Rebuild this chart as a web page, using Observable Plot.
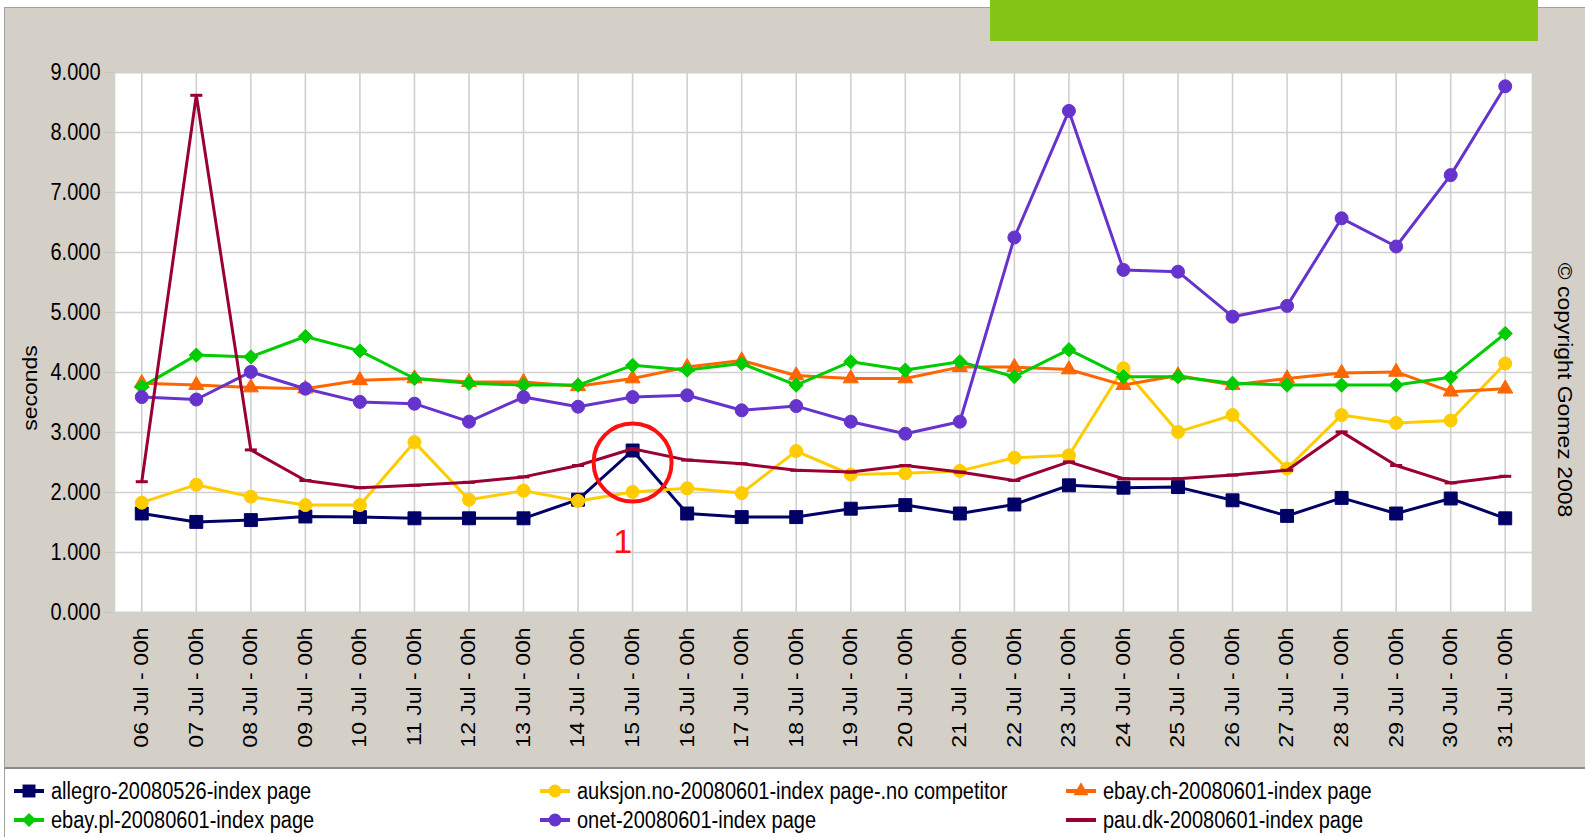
<!DOCTYPE html>
<html><head><meta charset="utf-8">
<script src="https://cdn.jsdelivr.net/npm/d3@7"></script>
<script src="https://cdn.jsdelivr.net/npm/@observablehq/plot@0.6"></script>
<style>
html,body{margin:0;padding:0;background:#fff;}
#wrap{position:relative;width:1585px;height:837px;overflow:hidden;background:#fff;font-family:"Liberation Sans",Arial,sans-serif;color:#000;}
#panel{position:absolute;left:4px;top:7px;width:1581px;height:762px;background:#d4d0c8;border-left:1px solid #a0a0a0;border-top:1px solid #a0a0a0;border-bottom:2px solid #8c8c8c;box-sizing:border-box;}
#legendBorder{position:absolute;left:4px;top:769px;width:1px;height:68px;background:#a0a0a0;}
#green{position:absolute;left:990px;top:0;width:548px;height:41px;background:#84c414;}
#chart{position:absolute;left:0;top:0;}
.rot{position:absolute;white-space:nowrap;font-size:23px;line-height:1;}
.leg{position:absolute;display:flex;align-items:center;height:26px;font-size:20px;white-space:nowrap;}
.leg span{display:inline-block;transform:scaleY(1.15);transform-origin:left center;}
.leg svg{margin-right:6px;}
</style></head>
<body>
<div id="wrap">
  <div id="panel"></div>
  <div id="legendBorder"></div>
  <div id="green"></div>
  <div id="chart"></div>
  <div class="rot" id="ylab" style="left:30px;top:388px;transform:translate(-50%,-50%) rotate(-90deg) scaleY(0.87);">seconds</div>
  <div class="rot" id="copy" style="left:1565px;top:390px;transform:translate(-50%,-50%) rotate(90deg) scaleY(0.87);">© copyright Gomez 2008</div>
  <div id="legend"></div>
</div>
<script>
// ---- data ----
const dates = ["06 Jul - 00h","07 Jul - 00h","08 Jul - 00h","09 Jul - 00h","10 Jul - 00h","11 Jul - 00h","12 Jul - 00h","13 Jul - 00h","14 Jul - 00h","15 Jul - 00h","16 Jul - 00h","17 Jul - 00h","18 Jul - 00h","19 Jul - 00h","20 Jul - 00h","21 Jul - 00h","22 Jul - 00h","23 Jul - 00h","24 Jul - 00h","25 Jul - 00h","26 Jul - 00h","27 Jul - 00h","28 Jul - 00h","29 Jul - 00h","30 Jul - 00h","31 Jul - 00h"];
const seriesNames = ["allegro-20080526-index page","auksjon.no-20080601-index page-.no competitor","ebay.ch-20080601-index page","ebay.pl-20080601-index page","onet-20080601-index page","pau.dk-20080601-index page"];
const allegro = [1.65,1.51,1.54,1.60,1.59,1.57,1.57,1.57,1.88,2.70,1.65,1.59,1.59,1.73,1.79,1.65,1.80,2.12,2.08,2.09,1.87,1.61,1.91,1.65,1.90,1.57];
const auksjon = [1.83,2.13,1.93,1.79,1.79,2.84,1.88,2.03,1.86,2.01,2.07,1.99,2.69,2.30,2.32,2.36,2.58,2.62,4.07,3.01,3.29,2.40,3.29,3.16,3.20,4.15];
const ebayCh = [3.82,3.79,3.75,3.73,3.87,3.90,3.84,3.84,3.77,3.90,4.09,4.20,3.95,3.90,3.90,4.09,4.09,4.05,3.79,3.95,3.79,3.90,3.99,4.01,3.68,3.73];
const ebayPl = [3.76,4.29,4.26,4.60,4.36,3.90,3.82,3.79,3.79,4.12,4.04,4.15,3.79,4.18,4.04,4.18,3.93,4.38,3.93,3.93,3.82,3.79,3.79,3.79,3.92,4.65];
const onet = [3.59,3.55,4.01,3.73,3.51,3.48,3.18,3.59,3.43,3.59,3.62,3.37,3.44,3.18,2.98,3.18,6.25,8.36,5.71,5.68,4.93,5.11,6.57,6.10,7.29,8.77];
const pauDk = [2.18,8.62,2.71,2.20,2.08,2.12,2.17,2.26,2.45,2.73,2.54,2.48,2.37,2.34,2.45,2.34,2.20,2.51,2.23,2.23,2.29,2.37,3.01,2.45,2.16,2.27];
const yTicks = [0,1,2,3,4,5,6,7,8,9];
const highlight = [{date: "15 Jul - 00h", value: 2.5, label: "1", labelValue: 1.18}];

// ---- styles ----
const seriesValues = [allegro, auksjon, ebayCh, ebayPl, onet, pauDk];
const colors = ["#000066","#ffcc00","#ff6600","#00cc00","#6633cc","#990033"];
const dash = {draw(ctx, size){ const w = Math.sqrt(size)/2; ctx.moveTo(-w,0); ctx.lineTo(w,0); }};
const symbols = ["square","circle","triangle","diamond2","circle", dash];
const radii = [7.3, 6.5, 5.6, 6.4, 6.5, 6.8];

const table = seriesNames.map((name, i) => dates.map((d, j) => ({series: name, date: d, value: seriesValues[i][j]})));

const marks = [
  Plot.frame({fill: "white"}),
  Plot.gridX({stroke: "#d0d0d0", strokeOpacity: 1, strokeWidth: 1.6}),
  Plot.gridY({ticks: yTicks, stroke: "#d0d0d0", strokeOpacity: 1, strokeWidth: 1.6}),
  Plot.frame({stroke: "#d0d0d0", strokeWidth: 1.6}),
  Plot.axisY({ticks: yTicks, tickFormat: d => d.toFixed(3), tickSize: 9, tickPadding: 5, stroke: "#c4c4c4", fill: "#000", fontSize: 20, label: null}),
  Plot.axisX({tickRotate: -90, tickSize: 0, tickPadding: 15, fill: "#000", fontSize: 23, label: null})
];
table.forEach((rows, i) => {
  marks.push(Plot.line(rows, {x: "date", y: "value", stroke: colors[i], strokeWidth: 3}));
  if (i === 5) {
    marks.push(Plot.dot(rows, {x: "date", y: "value", symbol: dash, r: radii[i], stroke: colors[i], fill: "none", strokeWidth: 3}));
  } else {
    marks.push(Plot.dot(rows, {x: "date", y: "value", symbol: symbols[i], r: radii[i], fill: colors[i], stroke: colors[i], strokeWidth: 1}));
  }
});
marks.push(Plot.dot(highlight, {x: "date", y: "value", r: 39, stroke: "#ff1010", strokeWidth: 4, fill: "none"}));
marks.push(Plot.text(highlight, {x: "date", y: "labelValue", text: "label", dx: -10, fontSize: 34, fontWeight: 300, fill: "#ff1010"}));

const chart = Plot.plot({
  width: 1585,
  height: 769,
  marginLeft: 114,
  marginRight: 53,
  marginTop: 72,
  marginBottom: 157,
  style: {background: "transparent", fontFamily: "Liberation Sans, Arial, sans-serif", color: "#000"},
  x: {type: "point", domain: dates, padding: 0.5, round: false},
  y: {domain: [0, 9]},
  marks
});
document.getElementById("chart").appendChild(chart);

// emulate the vertically stretched raster text of the original
chart.querySelectorAll('g[aria-label="y-axis tick label"] text').forEach(t => {
  t.setAttribute("transform", (t.getAttribute("transform") || "") + " scale(1,1.15)");
});
chart.querySelectorAll('g[aria-label="x-axis tick label"] text').forEach(t => {
  t.setAttribute("transform", (t.getAttribute("transform") || "") + " scale(1,0.87)");
});

// ---- legend ----
const legendPos = [[13, 778],[539, 778],[1065, 778],[13, 807],[539, 807],[1065, 807]];
const legendOrder = [0, 1, 2, 3, 4, 5];
const legend = document.getElementById("legend");
legendOrder.forEach((i, k) => {
  const div = document.createElement("div");
  div.className = "leg";
  div.style.left = legendPos[k][0] + "px";
  div.style.top = legendPos[k][1] + "px";
  const svg = d3.create("svg").attr("width", 32).attr("height", 26);
  svg.append("line").attr("x1", 1).attr("x2", 31).attr("y1", 13).attr("y2", 13).attr("stroke", colors[i]).attr("stroke-width", 4);
  if (i !== 5) {
    const typeMap = {square: d3.symbolSquare, circle: d3.symbolCircle, triangle: d3.symbolTriangle, diamond2: d3.symbolDiamond2};
    svg.append("path").attr("transform", "translate(16,13)").attr("d", d3.symbol(typeMap[symbols[i]], Math.PI * radii[i] * radii[i])()).attr("fill", colors[i]);
  }
  div.appendChild(svg.node());
  const span = document.createElement("span");
  span.textContent = seriesNames[i];
  div.appendChild(span);
  legend.appendChild(div);
});
</script>
</body></html>
